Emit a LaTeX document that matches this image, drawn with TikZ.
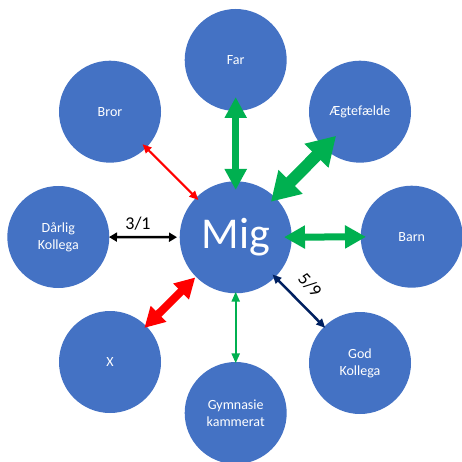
\documentclass[tikz,border=0pt]{standalone}
\usepackage{fontspec}
\setmainfont{Carlito}
\usetikzlibrary{arrows.meta}
\definecolor{circblue}{HTML}{4472C4}
\definecolor{officegreen}{HTML}{00B050}
\definecolor{officered}{HTML}{FF0000}
\definecolor{officenavy}{HTML}{002060}
\begin{document}
\begin{tikzpicture}[x=1pt,y=-1pt,
  person/.style={circle,fill=circblue,draw=none,minimum size=102pt,inner sep=0pt,
    text=white,align=center,font=\fontsize{14}{17}\selectfont},
  center/.style={person,minimum size=112pt,font=\fontsize{44}{50}\selectfont},
  lbl/.style={text=black,font=\fontsize{18}{20}\selectfont,inner sep=0pt},
  thicklink/.style={line width=#1},
]
\useasboundingbox (0,0) rectangle (461,462);
% nodes
\node[center] (mig) at (235.7,237.3) {Mig};
\node[person] (far) at (235.7,60) {Far};
\node[person] (aeg) at (360,111.7) {Ægtefælde};
\node[person] (barn) at (411.7,236.7) {Barn};
\node[person] (god) at (360,363) {God\\Kollega};
\node[person] (gym) at (235.7,413) {Gymnasie\\kammerat};
\node[person] (x) at (110,362) {X};
\node[person] (darlig) at (58.3,237) {Dårlig\\Kollega};
\node[person] (bror) at (110,111.7) {Bror};
% connectors
\draw[officegreen,line width=6.7pt,{Triangle[length=21pt,width=21pt]}-{Triangle[length=21pt,width=21pt]},
  shorten <=37pt, shorten >=47.3pt] (far.center) -- (mig.center);
\draw[officegreen,line width=12pt,{Triangle[length=28pt,width=32pt]}-{Triangle[length=28pt,width=32pt]},
  shorten <=34pt, shorten >=50pt] (aeg.center) -- (mig.center);
\draw[officegreen,line width=7pt,{Triangle[length=21pt,width=22pt]}-{Triangle[length=21pt,width=22pt]},
  shorten <=45.7pt, shorten >=48.3pt] (barn.center) -- (mig.center);
\draw[officenavy,line width=2.5pt,{Triangle[length=9pt,width=8pt]}-{Triangle[length=9pt,width=8pt]},
  shorten <=49.5pt, shorten >=52.3pt] (god.center) -- (mig.center);
\draw[officegreen,line width=2.3pt,{Triangle[length=10pt,width=8pt]}-{Triangle[length=10pt,width=8pt]},
  shorten <=49.7pt, shorten >=54.4pt] (gym.center) -- (mig.center);
\draw[officered,line width=8pt,{Triangle[length=20pt,width=21pt]}-{Triangle[length=20pt,width=21pt]},
  shorten <=48.4pt, shorten >=57pt] (x.center) -- (mig.center);
\draw[black,line width=2.5pt,{Triangle[length=8pt,width=9pt]}-{Triangle[length=8pt,width=9pt]},
  shorten <=50.7pt, shorten >=58.7pt] (darlig.center) -- (mig.center);
\draw[officered,line width=2pt,{Triangle[length=9pt,width=8pt]}-{Triangle[length=9pt,width=8pt]},
  shorten <=46pt, shorten >=52.8pt] (bror.center) -- (mig.center);
% labels
\node[lbl] (l31) at (138,224) {3/1};
\node[lbl,rotate=-48] (l59) at (310,285) {5/9};
\end{tikzpicture}
\end{document}
